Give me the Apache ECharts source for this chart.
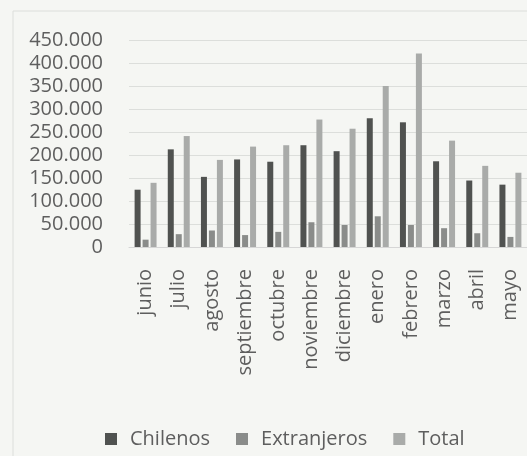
<!DOCTYPE html>
<html>
<head>
<meta charset="utf-8">
<script src="https://cdn.jsdelivr.net/npm/echarts@6/dist/echarts.min.js"></script>
<style>
html,body{margin:0;padding:0;background:#f5f6f3;}
#c{width:527px;height:456px;}
</style>
</head>
<body>
<div id="c"></div>
<script>
const categories = ['junio','julio','agosto','septiembre','octubre','noviembre','diciembre','enero','febrero','marzo','abril','mayo'];
const chilenos = [125000, 213000, 153000, 191000, 186000, 222000, 209000, 281000, 272000, 187000, 145000, 136000];
const extranjeros = [16000, 28000, 36000, 26000, 33000, 54000, 48000, 67000, 48000, 41000, 30000, 22000];
const total = [140000, 242000, 190000, 219000, 222000, 278000, 258000, 351000, 422000, 232000, 177000, 162000];
const yTicks = { min: 0, max: 450000, interval: 50000 };

const font = '"Open Sans", "DejaVu Sans", sans-serif';
const txt = '#5e5e5e';
function fmt(v){ return String(v).replace(/\B(?=(\d{3})+(?!\d))/g, '.'); }

const chart = echarts.init(document.getElementById('c'), null, {renderer:'canvas'});
chart.setOption({
  backgroundColor: '#f5f6f3',
  animation: false,
  graphic: [{
    type: 'rect', silent: true, z: -10,
    shape: { x: 13, y: 11, width: 700, height: 600 },
    style: { fill: 'none', stroke: '#dcdedb', lineWidth: 1 }
  }],
  grid: { left: 129, top: 40.7, height: 206.3, width: 402, containLabel: false },
  legend: {
    left: 100, top: 424,
    itemWidth: 12, itemHeight: 12, itemGap: 26,
    icon: 'rect',
    textStyle: { fontFamily: font, fontSize: 20, color: txt, padding: [0,0,0,8] },
    data: ['Chilenos','Extranjeros','Total']
  },
  xAxis: {
    type: 'category',
    data: categories,
    axisTick: { show: false },
    axisLine: { lineStyle: { color: '#d6d6d6' } },
    axisLabel: { rotate: 90, margin: 22, fontFamily: font, fontSize: 20, color: txt, interval: 0 }
  },
  yAxis: {
    type: 'value',
    min: yTicks.min, max: yTicks.max, interval: yTicks.interval,
    axisLine: { show: false },
    axisTick: { show: false },
    axisLabel: { margin: 26, fontFamily: font, fontSize: 20, color: txt, formatter: fmt },
    splitLine: { lineStyle: { color: '#dcdedb' } }
  },
  series: [
    { name: 'Chilenos', type: 'bar', data: chilenos, barWidth: 6, barGap: '33%', itemStyle: { color: '#505250' } },
    { name: 'Extranjeros', type: 'bar', data: extranjeros, barWidth: 6, barGap: '33%', itemStyle: { color: '#8a8c8a' } },
    { name: 'Total', type: 'bar', data: total, barWidth: 6, barGap: '33%', itemStyle: { color: '#a9aba9' } }
  ]
});
</script>
</body>
</html>
